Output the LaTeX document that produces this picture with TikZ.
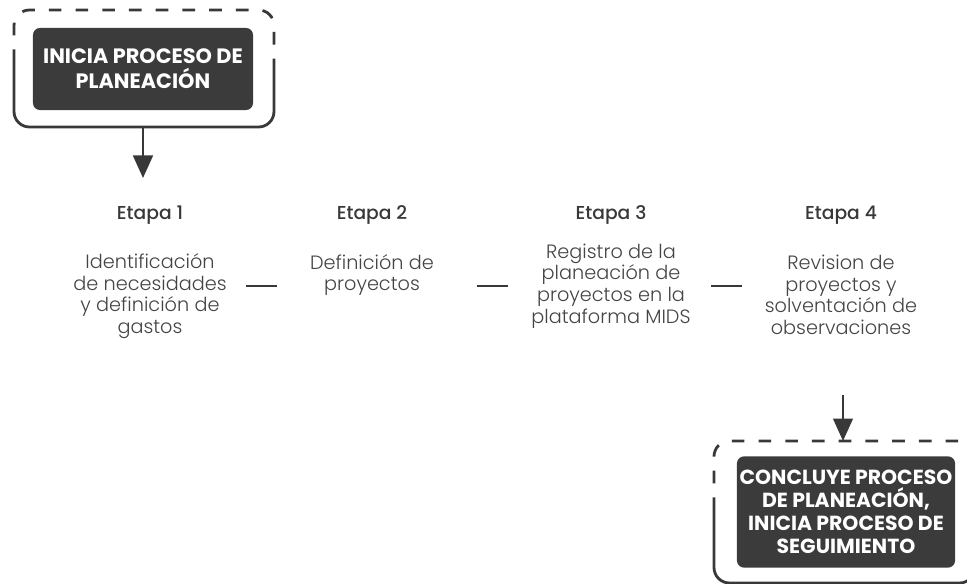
\documentclass[tikz,border=0pt]{standalone}
\usepackage{fontspec}
\setmainfont{Poppins}
\newfontfamily\lightfont{Poppins}[UprightFont=* Light]
\newfontfamily\mediumfont{Poppins}[UprightFont=* Medium]
\usetikzlibrary{arrows.meta,calc}

\definecolor{Ink}{HTML}{383838}
\definecolor{SoftInk}{HTML}{444444}
\definecolor{BoxGray}{HTML}{3B3B3B}

\tikzset{
  frameline/.style={draw=Ink,line width=2pt,rounded corners=11pt},
  processbox/.style={fill=BoxGray,text=white,rounded corners=5pt,align=center,inner sep=0pt},
  etapa/.style={text=Ink,font=\mediumfont\fontsize{13.3}{16}\selectfont},
  descripcion/.style={text=SoftInk,align=center,inner sep=0pt,font=\lightfont\fontsize{13.7}{15.4}\selectfont},
  flowarrow/.style={draw=Ink,line width=1.8pt,-{Triangle[length=16pt,width=14pt]}},
  conector/.style={draw=Ink,line width=1.6pt}
}

\newcommand{\drawframe}[5]{ % Parameters: left, top, right, bottom, split
  \draw[frameline,dash pattern=on 9pt off 10pt] (#1,#5) -- (#1,#2) -- (#3,#2) -- (#3,#5);
  \draw[frameline] (#1,#5) -- (#1,#4) -- (#3,#4) -- (#3,#5);
}
\newcommand{\drawlink}[2]{ % Parameters: left node, right node
  \draw[conector] ($(#1 |- eje)!0.5!(#2 |- eje)$) +(-15,0) -- +(16,0);
}

\begin{document}
\begin{tikzpicture}[x=0.025cm,y=-0.025cm]
  \useasboundingbox (0,0) rectangle (967,584);

  % inicio
  \drawframe{14}{10}{274}{127}{62}
  \node[processbox,minimum width=5.5cm,minimum height=2.05cm,
        font=\bfseries\fontsize{14.8}{18}\selectfont] (inicio) at (143,69)
        {INICIA PROCESO DE\\PLANEACIÓN};
  \coordinate (salidaA) at (143,127);
  \coordinate (llegadaA) at (143,178);
  \draw[flowarrow] (salidaA) -- (llegadaA);

  % etapas
  \coordinate (eje) at (0,286);
  \node[etapa] (e1) at (150,215) {Etapa 1};
  \node[etapa] (e2) at (372,215) {Etapa 2};
  \node[etapa] (e3) at (611,215) {Etapa 3};
  \node[etapa] (e4) at (841,215) {Etapa 4};

  \node[descripcion] (d1) at (150,296) {Identificación\\de necesidades\\y definición de\\gastos};
  \node[descripcion] (d2) at (372,275) {Definición de\\proyectos};
  \node[descripcion] (d3) at (611,286) {Registro de la\\planeación de\\proyectos en la\\plataforma MIDS};
  \node[descripcion] (d4) at (841,295) {Revision de\\proyectos y\\solventación de\\observaciones};

  \drawlink{e1}{e2}
  \drawlink{e2}{e3}
  \drawlink{e3}{e4}

  % fin
  \drawframe{714}{441}{975}{583}{510}
  \node[processbox,minimum width=5.45cm,minimum height=2.78cm,
        font=\bfseries\fontsize{14.5}{16.3}\selectfont] (fin) at (846,512)
        {CONCLUYE PROCESO\\DE PLANEACIÓN,\\INICIA PROCESO DE\\SEGUIMIENTO};
  \coordinate (salidaB) at (843,395);
  \coordinate (llegadaB) at (843,441);
  \draw[flowarrow] (salidaB) -- (llegadaB);
\end{tikzpicture}
\end{document}
